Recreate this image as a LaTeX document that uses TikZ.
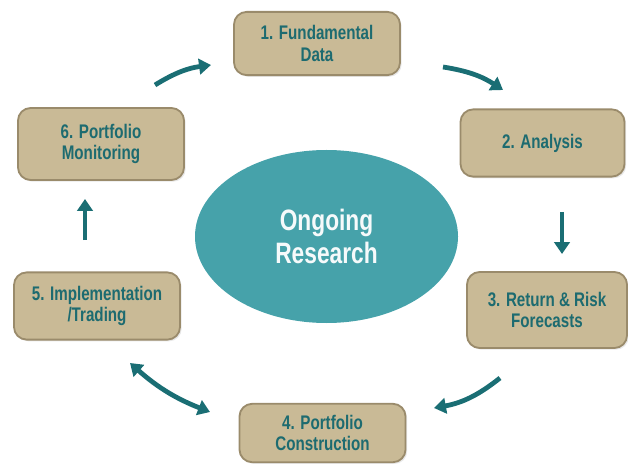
\documentclass[tikz,border=0pt]{standalone}
\usepackage{fontspec}
\setmainfont{Liberation Sans}[FakeStretch=0.77]
\usetikzlibrary{arrows.meta,shapes.geometric,shadows}
\definecolor{tan}{HTML}{C9BA96}
\definecolor{tanline}{HTML}{9A8B6B}
\definecolor{tealtext}{HTML}{1D6B70}
\definecolor{tealfill}{HTML}{46A2AA}
\definecolor{tealarrow}{HTML}{1A6E74}
\tikzset{
	stepbox/.style={draw=tanline, line width=1.3pt, fill=tan, rounded corners=9pt,
		minimum width=4.15cm, minimum height=1.68cm, align=center,
		text=tealtext, font=\bfseries\fontsize{14}{15}\selectfont,
		drop shadow={opacity=0.18, shadow xshift=1.2pt, shadow yshift=-1.2pt}},
	flow/.style={line width=3.4pt, draw=tealarrow, line cap=butt,
		-{Triangle[width=11pt,length=8.5pt]}},
}
\begin{document}
\begin{tikzpicture}[x=0.025cm,y=-0.025cm]
		\useasboundingbox (0,0) rectangle (628,464);
		% centre
		\node[ellipse, fill=tealfill, minimum width=263*0.025cm, minimum height=173*0.025cm,
			align=center, text=white!95!tealfill, font=\bfseries\fontsize{21}{23}\selectfont]
			(research) at (326.5,236.5) {Ongoing\\Research};
		% steps
		\node[stepbox, minimum height=1.58cm] (fund)   at (317,43.5)  {1. Fundamental\\Data};
		\node[stepbox, minimum width=4.1cm]  (anal)   at (542.5,143) {2. Analysis};
		\node[stepbox, minimum width=4.0cm, minimum height=1.9cm] (fore) at (547,310) {3. Return \& Risk\\Forecasts};
		\node[stepbox, minimum height=1.46cm] (constr) at (322.5,433) {4. Portfolio\\Construction};
		\node[stepbox]                       (impl)   at (97,306)    {5. Implementation\\/Trading};
		\node[stepbox, minimum height=1.8cm] (monit)  at (101,144)   {6. Portfolio\\Monitoring};
		% arrow ends
		\coordinate (m-f1) at (155,85);  \coordinate (m-f2) at (211,65);
		\coordinate (f-a1) at (443,67);  \coordinate (f-a2) at (503,90);
		\coordinate (a-r1) at (562,212); \coordinate (a-r2) at (562,254);
		\coordinate (r-c1) at (500,378); \coordinate (r-c2) at (434,408);
		\coordinate (c-i1) at (210,412); \coordinate (c-i2) at (130,363);
		\coordinate (i-m1) at (85,240);  \coordinate (i-m2) at (85,199);
		\draw[flow] (m-f1) to[bend left=12] (m-f2);
		\draw[flow] (f-a1) to[bend left=12] (f-a2);
		\draw[flow] (a-r1) -- (a-r2);
		\draw[flow] (r-c1) to[bend left=14] (r-c2);
		\draw[flow, {Triangle[width=11pt,length=8.5pt]}-{Triangle[width=11pt,length=8.5pt]}] (c-i1) to[bend left=10] (c-i2);
		\draw[flow] (i-m1) -- (i-m2);
	\end{tikzpicture}
\end{document}
